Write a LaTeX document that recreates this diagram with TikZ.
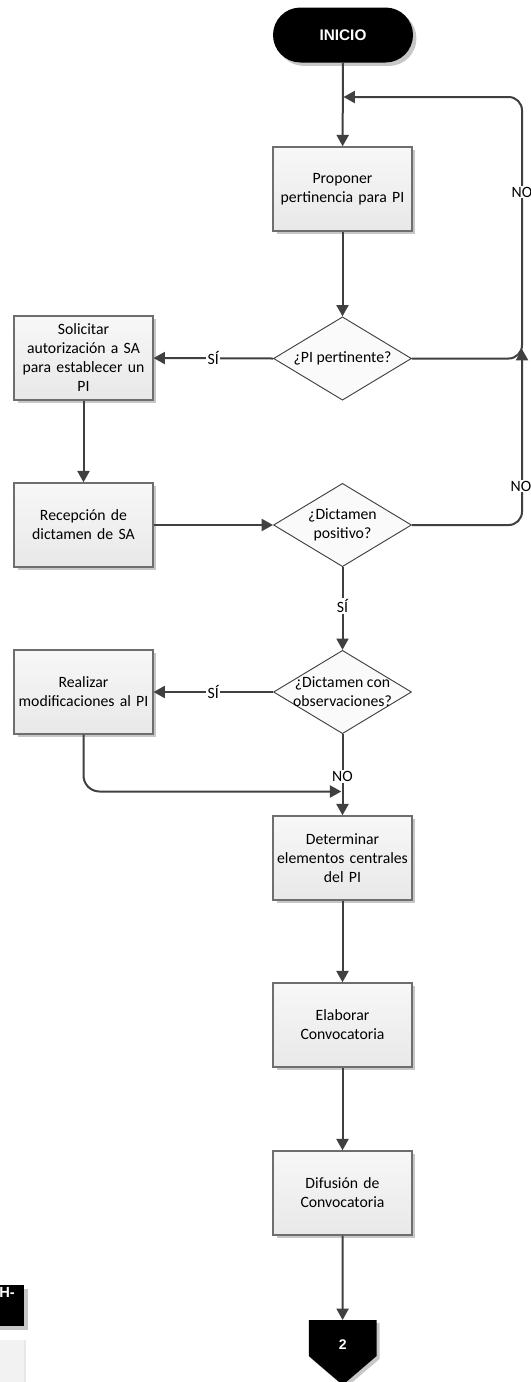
\documentclass[tikz,border=0pt]{standalone}
\usepackage{fontspec}
\setmainfont{Carlito}
\newfontfamily\arialb{Liberation Sans}[BoldFont={Liberation Sans Bold}]
\usetikzlibrary{shapes.geometric,arrows.meta,shadows}
\definecolor{lincol}{HTML}{404040}
\definecolor{boxcol}{HTML}{6E6E6E}
\begin{document}
\begin{tikzpicture}[x=0.75pt,y=-0.75pt,
  every node/.style={font=\fontsize{11.8}{14.25}\selectfont, align=center},
  shad/.style={drop shadow={shadow xshift=2.6pt, shadow yshift=-2.6pt, fill=black!22, opacity=1}},
  proc/.style={rectangle, draw=boxcol, line width=1.05pt, top color=black!3, bottom color=black!9,
    minimum width=104pt, minimum height=63pt, inner sep=2pt, text width=100pt, shad},
  dec/.style={diamond, draw=lincol, line width=0.7pt, fill=black!2, inner sep=0pt,
    minimum width=103.5pt, minimum height=62.5pt},
  conn/.style={draw=lincol, line width=1.5pt, -{Triangle[length=8.5pt,width=9pt]}},
  lbl/.style={fill=white, inner sep=1pt},
  term/.style={rectangle, rounded corners=20.6pt, fill=black, minimum width=105pt, minimum height=41.25pt,
    font=\arialb\bfseries\fontsize{11.5}{13}\selectfont, text=white, shad}
]
\useasboundingbox (0,0) rectangle (531,1382);

% nodes
\node[term] (start) at (343,35) {INICIO};
\node[proc] (p1) at (342.5,189) {Proponer\\pertinencia para PI};
\node[dec] (d1) at (342.5,358.5) {};
\node at (d1) (d1t) {¿PI pertinente?};
\node[proc] (s1) at (83.5,358) {Solicitar\\autorización a SA\\para establecer un\\PI};
\node[proc] (r1) at (83.5,525) {Recepción de\\dictamen de SA};
\node[dec] (d2) at (342.5,525) {};
\node at (d2) (d2t) {¿Dictamen\\positivo?};
\node[dec] (d3) at (342.5,692) {};
\node at (d3) (d3t) {¿Dictamen con\\observaciones?};
\node[proc] (m1) at (83.5,692) {Realizar\\modificaciones al PI};
\node[proc] (det) at (342.5,858) {Determinar\\elementos centrales\\del PI};
\node[proc] (ela) at (342.5,1025) {Elaborar\\Convocatoria};
\node[proc] (dif) at (342.5,1193) {Difusión de\\Convocatoria};

% off-page connector
\fill[black!22] (311.5,1323) -- (379.5,1323) -- (379.5,1359) -- (345.5,1388) -- (311.5,1359) -- cycle;
\fill[black] (308.8,1320) -- (376.6,1320) -- (376.6,1356) -- (342.7,1385) -- (308.8,1356) -- cycle;
\coordinate (c2top) at (342.6,1320);
\node[text=white, font=\arialb\bfseries\fontsize{10.5}{12}\selectfont] (c2) at (342.7,1345) {2};

% partial elements at the left edge
\fill[black!22] (-5,1288.5) rectangle (27.5,1329.5);
\fill[black] (-5,1285) rectangle (24.4,1326);
\node[anchor=east, text=white, inner sep=0pt, font=\arialb\bfseries\fontsize{11}{12}\selectfont] (hlab) at (15,1292.5) {H-};
\fill[black!9] (-5,1340) rectangle (25.5,1390);
\fill[black!5] (-5,1340) rectangle (23.7,1390);

% helper coordinates
\coordinate (rx) at (522,0);
\coordinate (j1) at (343.5,97);
\coordinate (j2) at (522,349);
\coordinate (j3) at (341.3,791.5);

% connectors
\draw[conn] (start) -- (p1);
\draw[conn] (p1) -- (d1);
\draw[conn, rounded corners=10pt] (d1.east) -- (d1.east -| rx) -- (rx |- j1) -- (j1);
\node[lbl] (no1) at (522,192) {NO};
\draw[conn] (d1.west) -- node[lbl] (si1) {SÍ} (s1.east);
\draw[conn] (s1) -- (r1);
\draw[conn] (r1) -- (d2);
\draw[conn, rounded corners=10pt] (d2.east) -- (d2.east -| rx) -- (j2);
\node[lbl] (no2) at (521,486) {NO};
\draw[conn] (d2) -- node[lbl, pos=0.47] (si2) {SÍ} (d3);
\draw[conn] (d3.west) -- node[lbl] (si3) {SÍ} (m1.east);
\draw[conn, rounded corners=12pt] (m1.south) -- (m1.south |- j3) -- (j3);
\draw[conn] (d3) -- node[lbl, pos=0.52] (no3) {NO} (det);
\draw[conn] (det) -- (ela);
\draw[conn] (ela) -- (dif);
\draw[conn] (dif) -- (c2top);
\end{tikzpicture}
\end{document}
